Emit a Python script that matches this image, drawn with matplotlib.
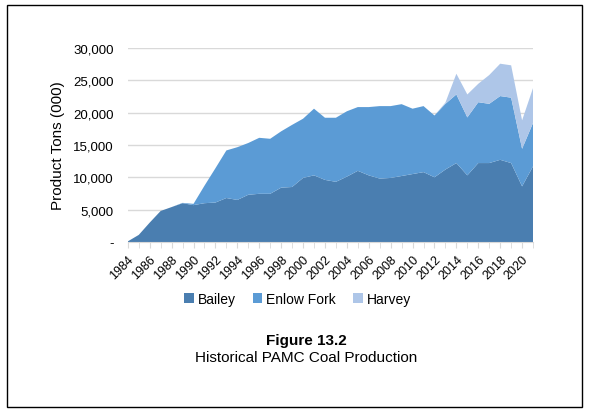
import matplotlib.pyplot as plt
from matplotlib.patches import Rectangle
from matplotlib.ticker import FuncFormatter, MultipleLocator

plt.rcParams['font.family'] = ['Liberation Sans', 'DejaVu Sans']

years = list(range(1984, 2022))
bailey = [100, 1100, 3000, 4800, 5400, 6000, 5700, 6000, 6100, 6800,
          6500, 7300, 7450, 7450, 8400, 8500, 9900, 10300, 9600, 9300,
          10100, 11000, 10300, 9800, 9900, 10200, 10500, 10800, 10000, 11200,
          12200, 10300, 12200, 12200, 12700, 12200, 8600, 11700]
enlow_fork = [0, 0, 0, 0, 0, 50, 200, 2700, 5300, 7350,
              8150, 8000, 8650, 8500, 8700, 9600, 9150, 10300, 9600, 9900,
              10100, 9850, 10550, 11200, 11100, 11100, 10100, 10200, 9550, 10150,
              10600, 8950, 9400, 9150, 9850, 10100, 5800, 6700]
harvey = [0] * 29 + [200, 3200, 3550, 2850, 4450, 5000, 5000, 4400, 5400]

series = ["Bailey", "Enlow Fork", "Harvey"]
colors = ["#4a7eb0", "#5b9bd5", "#aec6e8"]

fig = plt.figure(figsize=(5.89, 4.14), dpi=100)
ax = fig.add_axes([0.217, 0.413, 0.688, 0.469])

ax.stackplot(years, bailey, enlow_fork, harvey, colors=colors, labels=series,
             edgecolor="none", linewidth=0, zorder=2)

ax.set_xlim(1984, 2021)
ax.set_ylim(0, 30000)
ax.yaxis.set_major_locator(MultipleLocator(5000))
ax.yaxis.set_major_formatter(FuncFormatter(lambda v, p: "-" if v == 0 else f"{int(v):,}"))
ax.grid(axis="y", color="#d9d9d9", linewidth=1, zorder=0)
ax.set_axisbelow(True)

ax.set_xticks(years[::2])
ax.set_xticklabels([str(y) for y in years[::2]], rotation=45, ha="right",
                   rotation_mode="anchor", fontsize=9)
ax.set_xticks(years, minor=True)
ax.tick_params(axis="x", which="both", length=4, color="#d9d9d9", pad=4)
ax.tick_params(axis="y", length=0, labelsize=9.5, pad=10)

for s in ["top", "right", "left"]:
    ax.spines[s].set_visible(False)
ax.spines["bottom"].set_color("#d9d9d9")

ax.set_ylabel("Product Tons (000)", fontsize=11, labelpad=6)

fig.legend(*ax.get_legend_handles_labels(), loc="center", ncol=3,
           bbox_to_anchor=(0.505, 0.276), frameon=False, fontsize=10,
           handlelength=0.7, handleheight=0.7, handletextpad=0.3, columnspacing=1.2)

fig.text(0.52, 0.177, "Figure 13.2", ha="center", va="center", fontsize=11, fontweight="bold")
fig.text(0.52, 0.135, "Historical PAMC Coal Production", ha="center", va="center", fontsize=11)

fig.patches.append(Rectangle((0.012, 0.015), 0.976, 0.97, transform=fig.transFigure,
                             fill=False, edgecolor="black", linewidth=1))

fig.savefig("out.png", dpi=100)
